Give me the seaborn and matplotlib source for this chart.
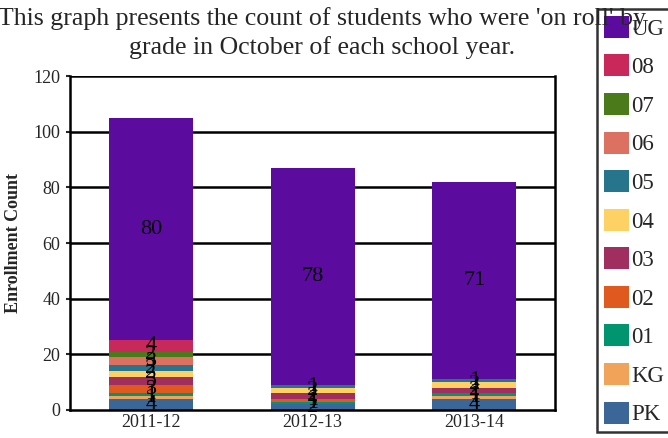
import numpy as np
import pandas as pd
import matplotlib
matplotlib.use("Agg")
import matplotlib.pyplot as plt
from matplotlib.patches import Patch
import seaborn as sns

sns.set_style('white')
plt.rcParams['font.family'] = ['Liberation Serif', 'DejaVu Serif']

# school years and grade counts (bottom to top)
years = ['2011-12', '2012-13', '2013-14']
grades = ['PK', 'KG', '01', '02', '03', '04', '05', '06', '07', '08', 'UG']
pk = [4, 2, 4]
kg = [1, 0, 1]
g01 = [1, 1, 1]
g02 = [3, 1, 0]
g03 = [3, 2, 2]
g04 = [2, 2, 2]
g05 = [2, 1, 1]
g06 = [3, 0, 0]
g07 = [2, 0, 0]
g08 = [4, 0, 0]
ug = [80, 78, 71]
colors = ['#3b6698', '#f2a35a', '#00956f', '#e05a20', '#a02f60', '#fdd163',
          '#26758c', '#dc7061', '#4a7a19', '#c8285a', '#5c0b9f']

counts = [pk, kg, g01, g02, g03, g04, g05, g06, g07, g08, ug]

fig = plt.figure(figsize=(6.68, 4.38), dpi=100)
ax = fig.add_axes([0.105, 0.064, 0.726, 0.762])

bottom = np.zeros(len(years))
for grade, vals, col in zip(grades, counts, colors):
    df = pd.DataFrame({'Year': years, 'Count': vals})
    sns.barplot(data=df, x='Year', y='Count', order=years, color=col,
                width=0.52, bottom=bottom, saturation=1, linewidth=0,
                errorbar=None, ax=ax)
    for i, v in enumerate(vals):
        if v > 0:
            ax.text(i, bottom[i] + v / 2, str(v), ha='center', va='center',
                    fontsize=16, color='black')
    bottom = bottom + np.array(vals)

ax.set_xlim(-0.5, 2.5)
ax.set_ylim(0, 120)
ax.set_yticks(range(0, 121, 20))
for yv in range(20, 121, 20):
    ax.axhline(yv, color='black', lw=1.8, zorder=0)
ax.tick_params(axis='y', length=3, width=1.5, labelsize=13, pad=4, left=True)
ax.tick_params(axis='x', length=0, labelsize=13, pad=3)
for s in ['left', 'bottom', 'right']:
    ax.spines[s].set_color('black')
    ax.spines[s].set_linewidth(1.8)
ax.spines['top'].set_visible(False)
ax.set_xlabel('')
ax.set_ylabel('Enrollment Count', fontsize=13, fontweight='bold', labelpad=8)

handles = [Patch(facecolor=c, edgecolor='none', label=g)
           for g, c in zip(grades[::-1], colors[::-1])]
leg = fig.legend(handles=handles, loc='upper left',
                 bbox_to_anchor=(597 / 668, 1 - 9 / 438), fontsize=16.5,
                 frameon=True, fancybox=False, handlelength=1.1,
                 handleheight=1.1, labelspacing=0.645, handletextpad=0.1,
                 borderpad=0.3, borderaxespad=0)
leg.get_frame().set_edgecolor('black')
leg.get_frame().set_linewidth(1.8)
leg.set_zorder(2)

# title sits on top of the legend box, like the original
fig.text(0.482, 0.958, "This graph presents the count of students who were 'on roll' by",
         ha='center', va='center', fontsize=18.6, zorder=10)
fig.text(0.482, 0.892, "grade in October of each school year.",
         ha='center', va='center', fontsize=18.6, zorder=10)

fig.savefig('out.png', dpi=100)
